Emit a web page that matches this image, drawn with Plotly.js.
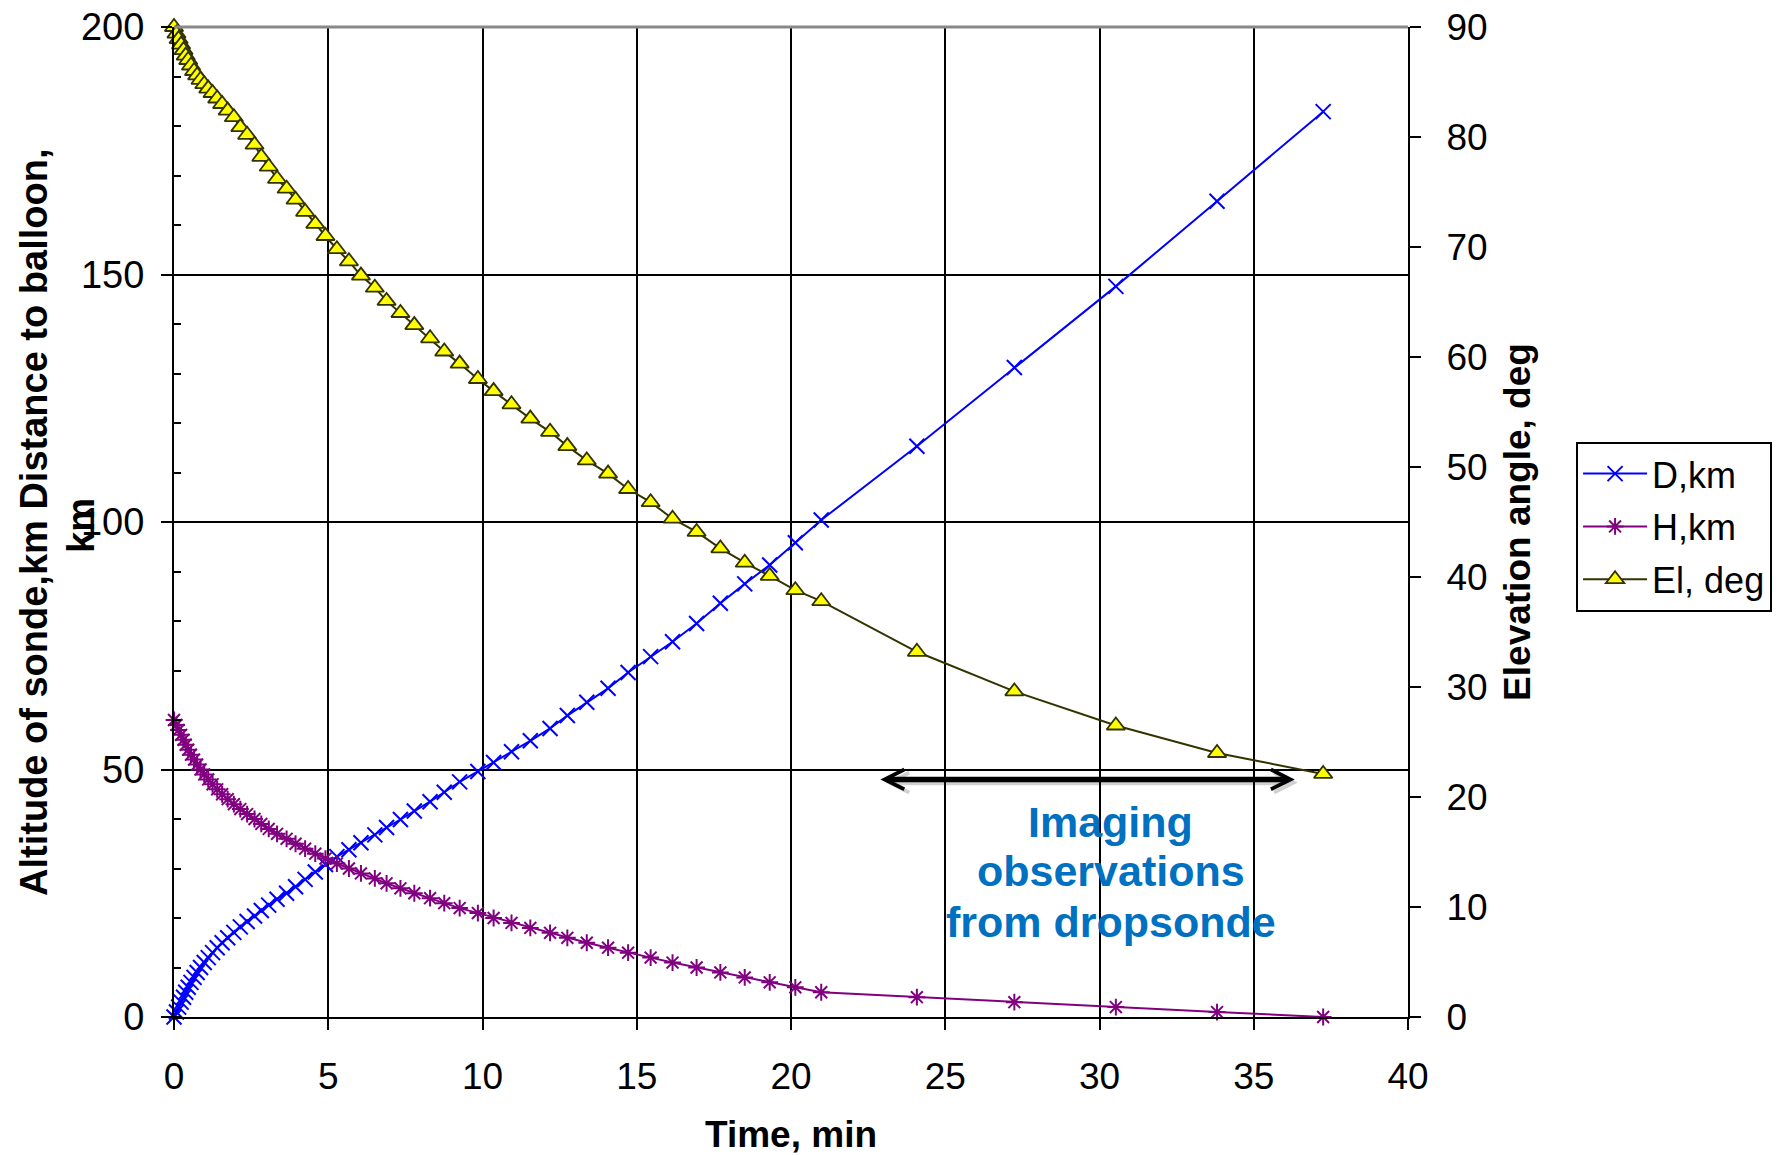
<!DOCTYPE html>
<html><head><meta charset="utf-8">
<script src="https://cdn.plot.ly/plotly-3.0.1.min.js"></script>
<style>html,body{margin:0;padding:0;background:#fff}</style>
</head><body>
<div id="chart" style="width:1787px;height:1155px"></div>
<script>
// Time since release, min
const timeMin = [0,0.08,0.15,0.23,0.31,0.38,0.46,0.55,0.65,0.75,
  0.86,0.98,1.11,1.25,1.40,1.56,1.74,1.94,2.15,2.37,
  2.61,2.83,3.07,3.34,3.65,3.94,4.25,4.58,4.91,5.28,
  5.67,6.06,6.51,6.89,7.34,7.79,8.30,8.76,9.26,9.85,
  10.36,10.94,11.55,12.19,12.75,13.38,14.07,14.72,15.45,16.16,
  16.94,17.71,18.50,19.31,20.14,20.98,24.08,27.24,30.53,33.81,
  37.25];
// D, km : distance to balloon
const distanceKm = [0,1.0,2.0,3.0,4.0,5.0,6.0,7.0,8.0,9.0,
  10.0,11.0,12.0,13.0,14.0,15.0,16.0,17.1,18.2,19.3,
  20.4,21.5,22.6,23.8,25.0,26.3,27.8,29.3,30.8,32.4,
  33.8,35.2,36.8,38.3,39.9,41.6,43.5,45.4,47.5,49.6,
  51.4,53.6,55.8,58.3,60.9,63.6,66.4,69.6,72.8,75.8,
  79.5,83.6,87.5,91.3,95.8,100.4,115.3,131.2,147.6,164.8,
  182.9];
// H, km : altitude of sonde
const altitudeKm = [60,59,58,57,56,55,54,53,52,51,
  50,49,48,47,46,45,44,43,42,41,
  40,39,38,37,36,35,34,33,32,31,
  30,29,28,27,26,25,24,23,22,21,
  20,19,18,17,16,15,14,13,12,11,
  10,9,8,7,6,5,4,3,2,1,
  0];
// El, deg : elevation angle
const elevationDeg = [90,89.4,88.9,88.4,87.9,87.4,87.0,86.5,86.0,85.6,
  85.2,84.8,84.4,84.0,83.5,83.0,82.4,81.8,80.9,80.2,
  79.3,78.2,77.3,76.2,75.3,74.3,73.2,72.1,71.0,69.8,
  68.7,67.4,66.3,65.1,64.0,62.9,61.7,60.5,59.4,58.0,
  56.9,55.7,54.4,53.2,51.9,50.6,49.4,48.0,46.8,45.3,
  44.1,42.6,41.3,40.1,38.8,37.8,33.2,29.6,26.5,24.0,
  22.1];

const seriesNames = ['D,km', 'H,km', 'El, deg'];
const leftTitle = ['Altitude of sonde,km Distance to balloon,', 'km'];
const xTitle = 'Time, min';
const rightTitle = 'Elevation angle, deg';
const noteLines = ['Imaging', 'observations', 'from dropsonde'];

const FONT = '"Liberation Sans", Arial, sans-serif';

const traces = [
  {
    x: timeMin, y: distanceKm, name: seriesNames[0], type: 'scatter', mode: 'lines+markers',
    legendgroup: 'd', cliponaxis: false,
    line: {color: '#0000FF', width: 2},
    marker: {symbol: 'x-thin-open', size: 15, color: '#0000FF', line: {color: '#0000FF', width: 2}}
  },
  {
    x: timeMin, y: altitudeKm, name: seriesNames[1], type: 'scatter', mode: 'lines+markers',
    legendgroup: 'h', cliponaxis: false,
    line: {color: '#800080', width: 2},
    marker: {symbol: 'asterisk-open', size: 14, color: '#800080', line: {color: '#800080', width: 2}}
  },
  {
    x: timeMin, y: elevationDeg, name: seriesNames[2], type: 'scatter', mode: 'lines+markers',
    yaxis: 'y2', legendgroup: 'e', cliponaxis: false,
    line: {color: '#333300', width: 2},
    marker: {symbol: 'triangle-up', size: 16, color: '#FFFF00', line: {color: '#333300', width: 1.8}}
  }
];

const layout = {
  width: 1787, height: 1155,
  margin: {l: 174, r: 379, t: 27, b: 138, pad: 0},
  paper_bgcolor: '#ffffff', plot_bgcolor: '#ffffff',
  font: {family: FONT, color: '#000000', size: 37},
  showlegend: true,
  xaxis: {
    range: [0, 40], dtick: 5, tick0: 0,
    showgrid: true, gridcolor: '#000000', gridwidth: 2,
    zeroline: false, showline: true, linecolor: '#000000', linewidth: 2,
    ticks: 'outside', ticklen: 11, tickwidth: 2, tickcolor: '#000000',
    ticklabelstandoff: 15,
    tickfont: {family: FONT, size: 37, color: '#000000'},
    title: {text: xTitle, font: {family: FONT, size: 37, color: '#000000', weight: 'bold'}, standoff: 27}
  },
  yaxis: {
    range: [0, 200], dtick: 50, tick0: 0,
    showgrid: true, gridcolor: '#000000', gridwidth: 2,
    zeroline: false, showline: true, linecolor: '#000000', linewidth: 2,
    ticks: 'outside', ticklen: 11, tickwidth: 2, tickcolor: '#000000',
    ticklabelstandoff: 9,
    tickfont: {family: FONT, size: 38, color: '#000000'},
    minor: {dtick: 10, ticks: 'inside', ticklen: 7, tickwidth: 2, tickcolor: '#000000', showgrid: false}
  },
  yaxis2: {
    range: [0, 90], dtick: 10, tick0: 0,
    overlaying: 'y', side: 'right', anchor: 'x',
    showgrid: false, zeroline: false, showline: true, linecolor: '#000000', linewidth: 2,
    ticks: 'outside', ticklen: 11, tickwidth: 2, tickcolor: '#000000',
    ticklabelstandoff: 18,
    tickfont: {family: FONT, size: 37, color: '#000000'},
    title: {text: rightTitle, font: {family: FONT, size: 37, color: '#000000', weight: 'bold'}, standoff: 18}
  },
  yaxis3: {
    range: [0, 90], dtick: 10, tick0: 0,
    overlaying: 'y', side: 'right', anchor: 'x',
    showgrid: false, zeroline: false, showline: false,
    ticks: 'inside', ticklen: 10, tickwidth: 2, tickcolor: '#000000',
    showticklabels: false
  },
  legend: {
    x: 1.1362, y: 0.5811, xanchor: 'left', yanchor: 'top',
    bgcolor: '#ffffff', bordercolor: '#000000', borderwidth: 2,
    font: {family: FONT, size: 36, color: '#000000'},
    tracegroupgap: 3, itemwidth: 64
  },
  shapes: [
    {type: 'line', xref: 'paper', yref: 'paper', x0: 0, x1: 1, y0: 1, y1: 1,
     line: {color: '#888888', width: 3}}
  ],
  annotations: [
    {xref: 'paper', yref: 'paper', x: -0.1135, y: 0.5, xanchor: 'center', yanchor: 'middle',
     text: leftTitle[0], textangle: -90, showarrow: false,
     font: {family: FONT, size: 38, color: '#000000', weight: 'bold'}},
    {xref: 'paper', yref: 'paper', x: -0.0754, y: 0.497, xanchor: 'center', yanchor: 'middle',
     text: leftTitle[1], textangle: -90, showarrow: false,
     font: {family: FONT, size: 38, color: '#000000', weight: 'bold'}},
    // arrow shadow
    {xref: 'x', yref: 'y', axref: 'x', ayref: 'y', x: 36.43, y: 47.35, ax: 23.01, ay: 47.35,
     text: '', showarrow: true, arrowside: 'end+start', arrowhead: 5, startarrowhead: 5,
     arrowsize: 0.7, startarrowsize: 0.7, arrowwidth: 5.5, arrowcolor: 'rgba(0,0,0,0.18)'},
    // double arrow
    {xref: 'x', yref: 'y', axref: 'x', ayref: 'y', x: 36.33, y: 48.0, ax: 22.85, ay: 48.0,
     text: '', showarrow: true, arrowside: 'end+start', arrowhead: 5, startarrowhead: 5,
     arrowsize: 0.7, startarrowsize: 0.7, arrowwidth: 5.5, arrowcolor: '#000000'},
    {xref: 'x', yref: 'y', x: 30.36, y: 39.45, xanchor: 'center', yanchor: 'middle', showarrow: false,
     text: noteLines[0], font: {family: FONT, size: 43, color: '#0070C0', weight: 'bold'}},
    {xref: 'x', yref: 'y', x: 30.36, y: 29.5, xanchor: 'center', yanchor: 'middle', showarrow: false,
     text: noteLines[1], font: {family: FONT, size: 43, color: '#0070C0', weight: 'bold'}},
    {xref: 'x', yref: 'y', x: 30.36, y: 19.13, xanchor: 'center', yanchor: 'middle', showarrow: false,
     text: noteLines[2], font: {family: FONT, size: 43, color: '#0070C0', weight: 'bold'}}
  ]
};

Plotly.newPlot('chart', traces, layout, {displayModeBar: false, staticPlot: true});
</script>
</body></html>
